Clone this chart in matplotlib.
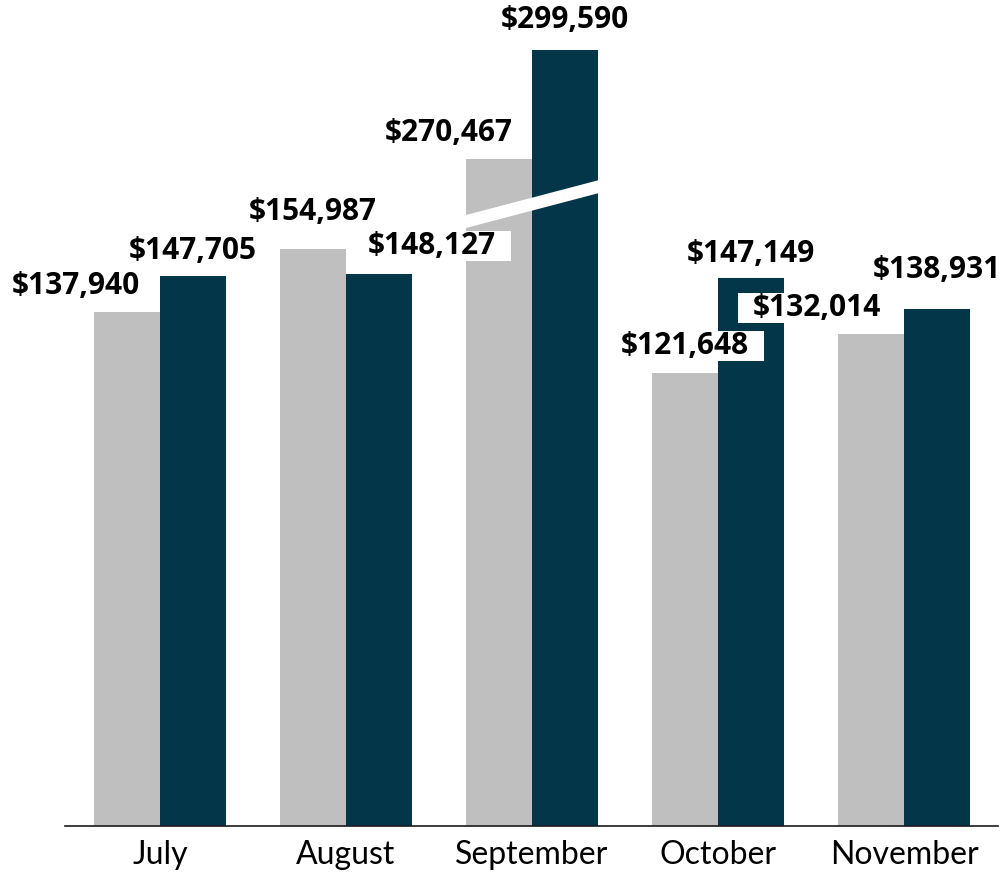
import numpy as np
import matplotlib
matplotlib.use("Agg")
import matplotlib.pyplot as plt
from matplotlib.transforms import blended_transform_factory
from matplotlib.patches import Polygon
from matplotlib.path import Path
from matplotlib.ticker import NullLocator

months = ["July", "August", "September", "October", "November"]
prior = [137940, 154987, 270467, 121648, 132014]
current = [147705, 148127, 299590, 147149, 138931]

# label nudges in pixels (dx, dy above bar top)
prior_nudge = [(-51, 26), (0, 37), (-50, 26), (0, 27), (-54, 26)]
current_nudge = [(0, 25), (53, 28), (0, 30), (0, 24), (0, 39)]

GRAY = "#BFBFBF"
NAVY = "#033649"

# broken y axis: values between A and B are collapsed
A, B = 165000, 256250


def fwd(v):
    v = np.asarray(v, dtype=float)
    return np.where(v < A, v, np.where(v < B, A, v - (B - A)))


def inv(d):
    d = np.asarray(d, dtype=float)
    return np.where(d < A, d, d + (B - A))


def wide_box(x0, y0, width, height, mutation_size):
    # white label box padded only left and right
    px = 0.5 * mutation_size
    return Path([(x0 - px, y0), (x0 + width + px, y0),
                 (x0 + width + px, y0 + height), (x0 - px, y0 + height),
                 (x0 - px, y0)], closed=True)


plt.rcParams["font.family"] = ["Lato", "DejaVu Sans"]

fig = plt.figure(figsize=(10.04, 8.74), dpi=100)
ax = fig.add_axes([65 / 1004, 48 / 874, (998 - 65) / 1004, 826 / 874])
ax.set_yscale("function", functions=(fwd, inv))

x = np.arange(len(months))
w = 0.355
ax.bar(x - w / 2, prior, w, color=GRAY, zorder=2)
ax.bar(x + w / 2, current, w, color=NAVY, zorder=2)

ax.set_xlim(-0.511, 4.505)
ax.set_ylim(0, 313100)

# diagonal break across the September bars
trans = blended_transform_factory(ax.transData, ax.transAxes)
x0, x1 = 2 - w - 0.02, 2 + w + 0.02
y0, y1 = 0.7228, 0.7672
t = 0.0157
stripe = Polygon([(x0, y0), (x1, y1), (x1, y1 + t), (x0, y0 + t)],
                 closed=True, transform=trans, facecolor="white",
                 edgecolor="none", zorder=3)
ax.add_patch(stripe)


def label(xpos, val, nudge):
    ax.annotate(f"${val:,}", xy=(xpos, val), xytext=nudge,
                textcoords="offset pixels", ha="center", va="center",
                fontsize=21.5, fontweight="bold", family=["Open Sans", "DejaVu Sans"],
                color="black", zorder=5,
                bbox=dict(boxstyle=wide_box, facecolor="white",
                          edgecolor="none"))


for i in range(len(months)):
    label(x[i] + w / 2, current[i], current_nudge[i])
    label(x[i] - w / 2, prior[i], prior_nudge[i])

ax.set_xticks(x)
ax.set_xticklabels(months, fontsize=23)
ax.tick_params(axis="x", length=0, pad=10)
ax.set_yticks([])
ax.yaxis.set_minor_locator(NullLocator())
for side in ["left", "right", "top"]:
    ax.spines[side].set_visible(False)
ax.spines["bottom"].set_linewidth(1.2)
ax.spines["bottom"].set_color("#1a1a1a")
ax.patch.set_visible(False)

fig.savefig("out.png", dpi=100)
